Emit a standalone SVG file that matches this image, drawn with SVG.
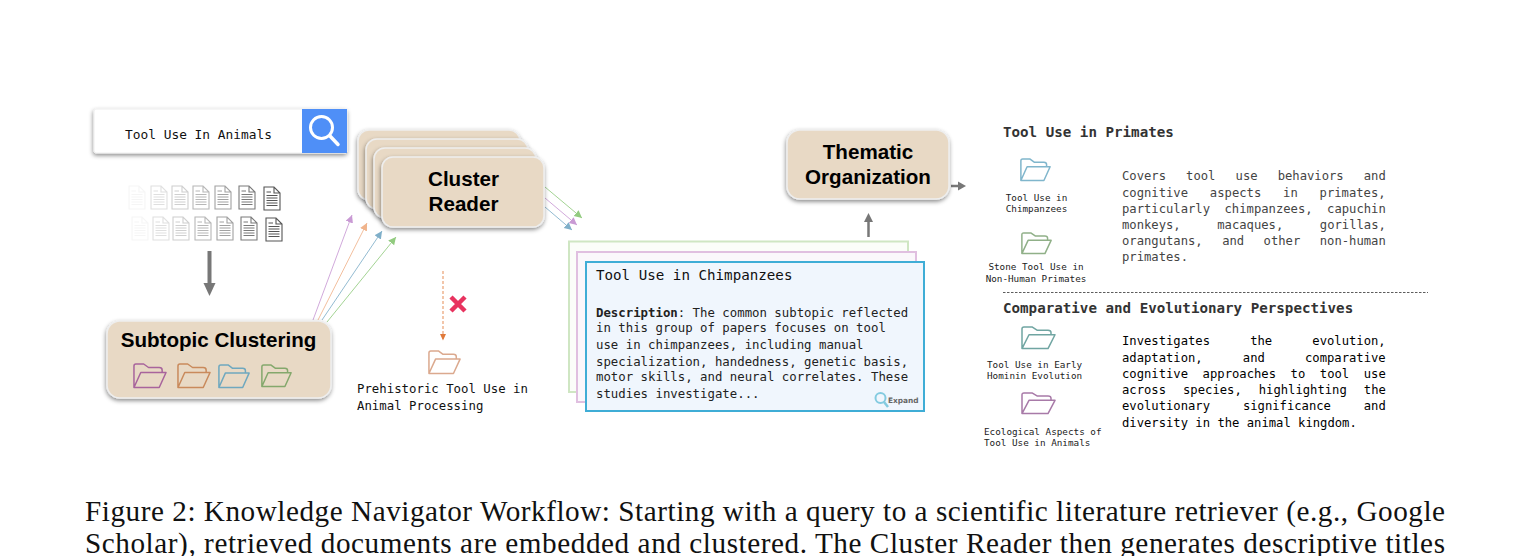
<svg xmlns="http://www.w3.org/2000/svg" width="1530" height="556" viewBox="0 0 1530 556">
<style>
.m{font-family:"DejaVu Sans Mono","Liberation Mono",monospace;fill:#111}
.h{font-family:"Liberation Sans",Arial,sans-serif;font-weight:700;font-size:20.6px;fill:#000;text-anchor:middle}
.box{fill:#e8d9c5;stroke:#eeeeee;stroke-width:1.5}
.sm{font-size:9.3px;fill:#222}
.sh{font-size:14.2px;font-weight:700;fill:#333}
.p{font-size:12.2px}
.d{font-size:12.35px;fill:#222}
.f{fill:none;stroke-width:1.5;stroke-linejoin:round}
.l{fill:none;stroke-width:.85}
.cap{font-family:"Liberation Serif","Times New Roman",serif;font-size:29.2px;fill:#111}
</style>
<defs>
<filter id="s" x="-10%" y="-15%" width="125%" height="135%"><feDropShadow dx="-0.500" dy="2" stdDeviation="2" flood-color="#000" flood-opacity=".45"/></filter>
<symbol id="fold" viewBox="0 0 35 25" preserveAspectRatio="none" overflow="visible">
<path vector-effect="non-scaling-stroke" d="M1 24.500V3Q1 1 3 1H11L16 4.500H27Q30 4.500 30 7V9.500M1 24.500L8 9.500H34L27 24.500Z"/>
</symbol>
<symbol id="doc" viewBox="0 0 18 25" overflow="visible">
<path d="M1 1H11L17 7V24H1Z M11 1V7H17" fill="#fff" stroke="#555" stroke-width="1.100"/>
<path d="M3.500 6H8M3.500 9.500H14.500M3.500 12H14.500M3.500 14.500H14.500M3.500 17H14.500M3.500 19.500H14.500" stroke="#555" stroke-width="1"/>
</symbol>
<marker id="ap" markerWidth="10" markerHeight="10" refX="9" refY="4.500" orient="auto"><path d="M0 0L9 4.500L0 9Z" fill="#c99ad4"/></marker>
<marker id="ao" markerWidth="10" markerHeight="10" refX="9" refY="4.500" orient="auto"><path d="M0 0L9 4.500L0 9Z" fill="#f0b48c"/></marker>
<marker id="ab" markerWidth="10" markerHeight="10" refX="9" refY="4.500" orient="auto"><path d="M0 0L9 4.500L0 9Z" fill="#7fafc9"/></marker>
<marker id="ag" markerWidth="10" markerHeight="10" refX="9" refY="4.500" orient="auto"><path d="M0 0L9 4.500L0 9Z" fill="#92cb7f"/></marker>
<marker id="ad" markerWidth="10" markerHeight="10" refX="7" refY="3.500" orient="auto"><path d="M0 0L7.500 3.500L0 7Z" fill="#e0793a"/></marker>
</defs>

<g id="search">
<rect x="94" y="109" width="253" height="44" rx="2" fill="#fff" stroke="#eee" filter="url(#s)"/>
<rect x="302" y="109" width="45" height="44" fill="#4f8ff7"/>
<circle cx="321.500" cy="127.500" r="11" fill="none" stroke="#fff" stroke-width="3"/>
<path d="M330 136L338 144.500" stroke="#fff" stroke-width="3.500" stroke-linecap="round"/>
<text class="m" x="125" y="139" font-size="12.850">Tool Use In Animals</text>
</g>

<g id="documents">
<use href="#doc" x="128" y="185" width="18" height="25" opacity=".05"/>
<use href="#doc" x="150" y="185" width="18" height="25" opacity=".18"/>
<use href="#doc" x="171" y="185" width="18" height="25" opacity=".28"/>
<use href="#doc" x="192" y="185" width="18" height="25" opacity=".42"/>
<use href="#doc" x="214" y="185" width="18" height="25" opacity=".55"/>
<use href="#doc" x="238" y="185" width="18" height="25" opacity=".78"/>
<use href="#doc" x="263" y="186" width="18" height="25" opacity="1"/>
<use href="#doc" x="131" y="216" width="18" height="25" opacity=".05"/>
<use href="#doc" x="152" y="216" width="18" height="25" opacity=".18"/>
<use href="#doc" x="172" y="216" width="18" height="25" opacity=".28"/>
<use href="#doc" x="194" y="216" width="18" height="25" opacity=".42"/>
<use href="#doc" x="216" y="216" width="18" height="25" opacity=".55"/>
<use href="#doc" x="240" y="216" width="18" height="25" opacity=".78"/>
<use href="#doc" x="265" y="217" width="18" height="25" opacity="1"/>
</g>

<g id="connectors">
<path d="M209.500 251V284" stroke="#777" stroke-width="4"/>
<path d="M203.500 283H215.500L209.500 296Z" fill="#777"/>
<path class="l" d="M313 320L352 215" stroke="#c99ad4" marker-end="url(#ap)"/>
<path class="l" d="M318 320L367 223" stroke="#f0b48c" marker-end="url(#ao)"/>
<path class="l" d="M322 320L382 231" stroke="#7fafc9" marker-end="url(#ab)"/>
<path class="l" d="M327 322L396 237" stroke="#92cb7f" marker-end="url(#ag)"/>
<path class="l" d="M545 187L582 218" stroke="#92cb7f" marker-end="url(#ag)"/>
<path class="l" d="M545 198L577 225" stroke="#c99ad4" marker-end="url(#ap)"/>
<path class="l" d="M545 207L572 230" stroke="#7fafc9" marker-end="url(#ab)"/>
<path class="l" d="M443 271V340" stroke="#e0793a" stroke-dasharray="3 2" marker-end="url(#ad)"/>
<path d="M868.500 237V221" stroke="#777" stroke-width="2.500"/>
<path d="M864 222H873L868.500 213Z" fill="#777"/>
<path d="M951 186H960" stroke="#777" stroke-width="2.500"/>
<path d="M958 181.500V190.500L966 186Z" fill="#777"/>
<path d="M451 297L465 311M465 297L451 311" stroke="#e8335f" stroke-width="4.500"/>
</g>

<g id="subtopic-clustering">
<rect class="box" x="107" y="321" width="224" height="77" rx="13" filter="url(#s)"/>
<text class="h" x="218.500" y="347">Subtopic Clustering</text>
<use href="#fold" x="133" y="363" width="34" height="25" class="f" stroke="#a8649c"/>
<use href="#fold" x="177" y="363" width="34" height="25" class="f" stroke="#c98a5c"/>
<use href="#fold" x="218" y="364" width="32" height="24" class="f" stroke="#6fa8bf"/>
<use href="#fold" x="261" y="364" width="31" height="23" class="f" stroke="#84a86c"/>
</g>

<g id="cluster-reader">
<rect class="box" x="358" y="130" width="162" height="70" rx="11" filter="url(#s)"/>
<rect class="box" x="366" y="139" width="162" height="70" rx="11" filter="url(#s)"/>
<rect class="box" x="374" y="148" width="162" height="70" rx="11" filter="url(#s)"/>
<rect class="box" x="382" y="157" width="162" height="70" rx="11" filter="url(#s)"/>
<text class="h" x="463.500" y="186">Cluster</text>
<text class="h" x="463.500" y="211">Reader</text>
</g>

<g id="prehistoric">
<use href="#fold" x="428" y="350" width="33" height="24" class="f" stroke="#dba98e"/>
<text class="m" x="357" y="393" font-size="12.350">Prehistoric Tool Use in</text>
<text class="m" x="357" y="410" font-size="12.350">Animal Processing</text>
</g>

<g id="cards">
<rect x="569" y="241.500" width="339" height="150.500" fill="#fbfdf9" stroke="#cfe6c3" stroke-width="2"/>
<rect x="577" y="252" width="339" height="150" fill="#faf7fb" stroke="#e0bfe0" stroke-width="2"/>
<rect x="586" y="262" width="338" height="149" fill="#f0f6fd" stroke="#3fadd6" stroke-width="2"/>
<text class="m" x="596" y="280" font-size="14.200">Tool Use in Chimpanzees</text>
<text class="m d" x="596" y="317"><tspan font-weight="700">Description</tspan>: The common subtopic reflected</text>
<text class="m d" x="596" y="332">in this group of papers focuses on tool</text>
<text class="m d" x="596" y="349">use in chimpanzees, including manual</text>
<text class="m d" x="596" y="366">specialization, handedness, genetic basis,</text>
<text class="m d" x="596" y="381">motor skills, and neural correlates. These</text>
<text class="m d" x="596" y="398">studies investigate...</text>
<circle cx="880.500" cy="398" r="5" fill="none" stroke="#84cbe0" stroke-width="2"/>
<path d="M884 402L888 407" stroke="#84cbe0" stroke-width="2.500"/>
<text x="888" y="403" font-family="DejaVu Sans,sans-serif" font-size="7.400" font-weight="700" fill="#666">Expand</text>
</g>

<g id="thematic-organization">
<rect class="box" x="787" y="130" width="162" height="69" rx="13" filter="url(#s)"/>
<text class="h" x="868" y="159">Thematic</text>
<text class="h" x="868" y="184">Organization</text>
</g>

<g id="theme-primates">
<text class="m sh" x="1003" y="137">Tool Use in Primates</text>
<use href="#fold" x="1020" y="158" width="31" height="23" class="f" stroke="#80b6cc"/>
<text class="m sm" x="1036.500" y="201" text-anchor="middle">Tool Use in</text>
<text class="m sm" x="1036.500" y="212" text-anchor="middle">Chimpanzees</text>
<use href="#fold" x="1021" y="232" width="31" height="22" class="f" stroke="#90b088"/>
<text class="m sm" x="1036" y="270" text-anchor="middle">Stone Tool Use in</text>
<text class="m sm" x="1036" y="282" text-anchor="middle">Non-Human Primates</text>
<g class="m p" style="fill:#444">
<text x="1122" y="180" word-spacing="12.750">Covers tool use behaviors and</text>
<text x="1122" y="197" word-spacing="14.500">cognitive aspects in primates,</text>
<text x="1122" y="213" word-spacing="7.150">particularly chimpanzees, capuchin</text>
<text x="1122" y="229" word-spacing="29.200">monkeys, macaques, gorillas,</text>
<text x="1122" y="245" word-spacing="12.100">orangutans, and other non-human</text>
<text x="1122" y="261">primates.</text>
</g>
</g>

<path id="divider" d="M1003 292.500H1428" stroke="#333" stroke-width=".8" stroke-dasharray="2.500 1.500"/>

<g id="theme-comparative">
<text class="m sh" x="1003" y="313">Comparative and Evolutionary Perspectives</text>
<use href="#fold" x="1021" y="326" width="35" height="23" class="f" stroke="#70a5a2"/>
<text class="m sm" x="987" y="368">Tool Use in Early</text>
<text class="m sm" x="987" y="379">Hominin Evolution</text>
<use href="#fold" x="1021" y="392" width="35" height="22" class="f" stroke="#a87aa8"/>
<text class="m sm" x="984" y="435">Ecological Aspects of</text>
<text class="m sm" x="984" y="446">Tool Use in Animals</text>
<g class="m p" style="fill:#000">
<text x="1122" y="345" word-spacing="32.800">Investigates the evolution,</text>
<text x="1122" y="362" word-spacing="32.800">adaptation, and comparative</text>
<text x="1122" y="378" word-spacing="7.250">cognitive approaches to tool use</text>
<text x="1122" y="394" word-spacing="9.670">across species, highlighting the</text>
<text x="1122" y="410" word-spacing="25.500">evolutionary significance and</text>
<text x="1122" y="427">diversity in the animal kingdom.</text>
</g>
</g>

<g id="caption">
<text class="cap" x="85" y="521" textLength="1360" lengthAdjust="spacing">Figure 2: Knowledge Navigator Workflow: Starting with a query to a scientific literature retriever (e.g., Google</text>
<text class="cap" x="85" y="553" textLength="1360" lengthAdjust="spacing">Scholar), retrieved documents are embedded and clustered. The Cluster Reader then generates descriptive titles</text>
</g>
</svg>
